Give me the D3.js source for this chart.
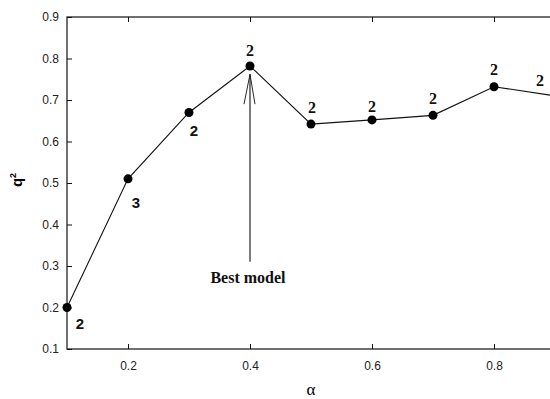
<!DOCTYPE html>
<html>
<head>
<meta charset="utf-8">
<script src="https://cdn.jsdelivr.net/npm/d3@7"></script>
<style>
  body { margin: 0; background: #fff; }
  .tick text { font-family: Arial, "Liberation Sans", sans-serif; font-size: 12px; fill: #222; }
  .lbl { font-family: "Times New Roman", "Liberation Serif", serif; font-weight: bold; font-size: 16px; fill: #111; }
  .lbl.sans { font-family: Arial, "Liberation Sans", sans-serif; font-weight: bold; font-size: 15px; }
</style>
</head>
<body>
<div id="chart"></div>
<script>
// alpha vs q^2, with number of components over each point
let alphas = [0.1, 0.2, 0.3, 0.4, 0.5, 0.6, 0.7, 0.8, 0.9];
let q2 = [0.20, 0.51, 0.67, 0.782, 0.642, 0.652, 0.663, 0.732, 0.71];
let comps = ["2", "3", "2", "2", "2", "2", "2", "2", "2"];
let xTicks = [0.2, 0.4, 0.6, 0.8];
let yTicks = [0.1, 0.2, 0.3, 0.4, 0.5, 0.6, 0.7, 0.8, 0.9];

let margin = {top: 17, right: -5, bottom: 50, left: 67}
    , width = 550 - margin.left - margin.right
    , height = 399 - margin.top - margin.bottom;

let svg = d3.select("#chart").append("svg")
    .attr("width", 550)
    .attr("height", 399)
    .append("g")
    .attr("transform", "translate(" + margin.left + "," + margin.top + ")");

let x = d3.scaleLinear().domain([0.1, 0.9]).range([0, width]);
let y = d3.scaleLinear().domain([0.1, 0.9]).range([height, 0]);

// frame
svg.append("rect")
    .attr("width", width).attr("height", height)
    .attr("fill", "none").attr("stroke", "#111").attr("stroke-width", 1.2);

// axes with ticks pointing inward
let fmt = d3.format(".1f");
svg.append("g")
    .attr("transform", "translate(0," + height + ")")
    .call(d3.axisBottom(x).tickValues(xTicks).tickFormat(fmt).tickSizeInner(-5).tickSizeOuter(0).tickPadding(12))
    .call(g => g.select(".domain").remove());
svg.append("g")
    .call(d3.axisTop(x).tickValues(xTicks).tickFormat("").tickSizeInner(-5).tickSizeOuter(0))
    .call(g => g.select(".domain").remove());
svg.append("g")
    .call(d3.axisLeft(y).tickValues(yTicks).tickFormat(fmt).tickSizeInner(-5).tickSizeOuter(0).tickPadding(8))
    .call(g => g.select(".domain").remove());
svg.append("g")
    .attr("transform", "translate(" + width + ",0)")
    .call(d3.axisRight(y).tickValues(yTicks).tickFormat("").tickSizeInner(-5).tickSizeOuter(0))
    .call(g => g.select(".domain").remove());
svg.selectAll(".tick line").attr("stroke", "#111");

// axis titles
svg.append("text")
    .attr("transform", "translate(-45," + (height / 2 - 3) + ") rotate(-90)")
    .attr("text-anchor", "middle")
    .style("font-family", "Arial, sans-serif").style("font-weight", "bold").style("font-size", "15px")
    .html("q<tspan dy='-6' font-size='9px'>2</tspan>");
svg.append("text")
    .attr("x", x(0.5)).attr("y", height + 46)
    .attr("text-anchor", "middle")
    .style("font-family", "'Times New Roman', serif").style("font-size", "17px")
    .text("α");

let data = alphas.map((a, i) => ({a: a, q: q2[i], n: comps[i]}));

svg.append("path")
    .datum(data)
    .attr("fill", "none").attr("stroke", "#111").attr("stroke-width", 1.1)
    .attr("d", d3.line().x(d => x(d.a)).y(d => y(d.q)));

svg.selectAll(".dot")
    .data(data)
    .enter().append("circle")
    .attr("class", "dot")
    .attr("cx", d => x(d.a)).attr("cy", d => y(d.q))
    .attr("r", 4.5).attr("fill", "#000");

// label offsets: first three sit below-right, the rest above
let offs = [[13, 21], [8, 29], [5, 24], [0, -10], [1, -11], [0, -8], [0, -11], [0, -12], [-15, -10]];
svg.selectAll(".lbl")
    .data(data)
    .enter().append("text")
    .attr("class", (d, i) => i < 3 ? "lbl sans" : "lbl")
    .attr("text-anchor", "middle")
    .attr("x", (d, i) => x(d.a) + offs[i][0])
    .attr("y", (d, i) => y(d.q) + offs[i][1])
    .text(d => d.n);

// "Best model" arrow
let ax = x(0.4);
svg.append("line")
    .attr("x1", ax).attr("x2", ax)
    .attr("y1", y(0.31)).attr("y2", y(0.762))
    .attr("stroke", "#111").attr("stroke-width", 1.1);
svg.append("path")
    .attr("d", d3.line()([[ax - 6, y(0.69)], [ax, y(0.762)], [ax + 5, y(0.69)]]))
    .attr("fill", "none").attr("stroke", "#111").attr("stroke-width", 0.9);
svg.append("text")
    .attr("class", "lbl")
    .attr("x", ax - 2).attr("y", y(0.26))
    .attr("text-anchor", "middle")
    .text("Best model");
</script>
</body>
</html>
